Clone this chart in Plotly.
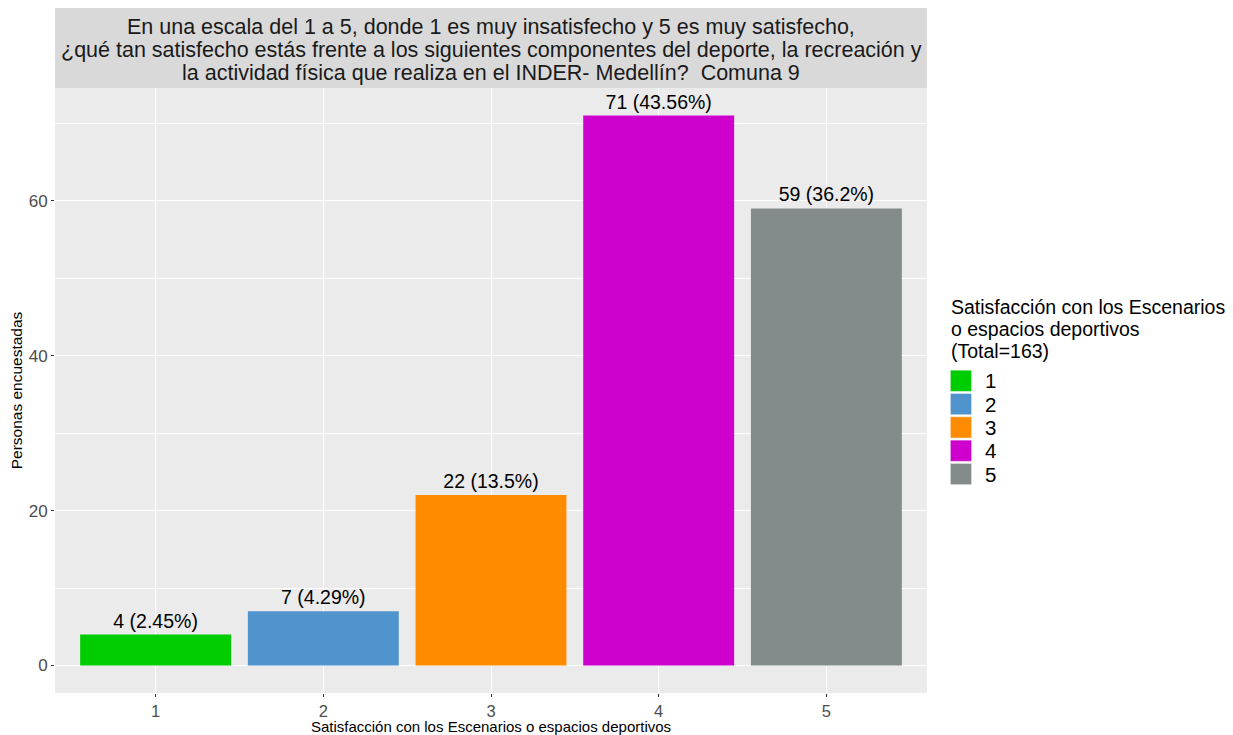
import plotly.graph_objects as go

categories = ["1", "2", "3", "4", "5"]
counts = [4, 7, 22, 71, 59]
percents = ["2.45%", "4.29%", "13.5%", "43.56%", "36.2%"]
colors = ["#00CD00", "#4F94CD", "#FF8C00", "#CD00CD", "#838B8B"]
total = 163

title_lines = [
    "En una escala del 1 a 5, donde 1 es muy insatisfecho y 5 es muy satisfecho,",
    "¿qué tan satisfecho estás frente a los siguientes componentes del deporte, la recreación y",
    "la actividad física que realiza en el INDER- Medellín?  Comuna 9",
]
legend_title_lines = [
    "Satisfacción con los Escenarios",
    "o espacios deportivos",
    f"(Total={total})",
]

FONT = "Liberation Sans, Arial, sans-serif"

fig = go.Figure()
for cat, n, p, c in zip(categories, counts, percents, colors):
    fig.add_trace(go.Bar(
        x=[cat], y=[n], width=0.9, marker=dict(color=c, line=dict(width=0)),
        text=[f"{n} ({p})"], textposition="outside", cliponaxis=False,
        textfont=dict(family=FONT, size=19.5, color="#000000"),
        name=cat, showlegend=False))

# page has an 8px body margin; figure is placed at (8, 8)
W, H = 1225, 727
ml, mr, mt, mb = 47, 306.3, 80, 42.3
ph = H - mt - mb
pw = W - ml - mr


def py(ypix):  # figure pixel y -> paper y
    return (H - mb - ypix) / ph


def px(xpix):  # figure pixel x -> paper x
    return (xpix - ml) / pw


annotations = []
shapes = [dict(type="rect", xref="paper", yref="paper", x0=0, x1=1, y0=1, y1=py(0),
               fillcolor="#D9D9D9", line=dict(width=0), layer="below")]

for i, line in enumerate(title_lines):
    annotations.append(dict(text=line, xref="paper", yref="paper", x=0.5, y=py(19 + 23 * i),
                            xanchor="center", yanchor="middle", showarrow=False,
                            font=dict(size=21.5, color="#1A1A1A")))

# legend (drawn to match ggplot's key sizes)
for i, line in enumerate(legend_title_lines):
    annotations.append(dict(text=line, xref="paper", yref="paper", x=px(941), y=py(299 + 22 * i),
                            xanchor="left", yanchor="middle", showarrow=False,
                            font=dict(size=19.5, color="#000000")))
key_top, key_step, key_size, key_left = 362, 23.3, 21.3, 942
for i, (cat, c) in enumerate(zip(categories, colors)):
    y0 = key_top + key_step * i
    shapes.append(dict(type="rect", xref="paper", yref="paper",
                       x0=px(key_left), x1=px(key_left + key_size),
                       y0=py(y0 + key_size), y1=py(y0),
                       fillcolor=c, line=dict(width=0.6, color="#F2F2F2")))
    annotations.append(dict(text=cat, xref="paper", yref="paper", x=px(974.5), y=py(y0 + key_size / 2),
                            xanchor="left", yanchor="middle", showarrow=False,
                            font=dict(size=20.5, color="#000000")))

fig.update_layout(
    width=W, height=H,
    margin=dict(l=ml, r=mr, t=mt, b=mb, autoexpand=False),
    paper_bgcolor="white", plot_bgcolor="#EBEBEB",
    font=dict(family=FONT, color="#000000"),
    bargap=0.1,
    showlegend=False,
    xaxis=dict(type="category", range=[-0.6, 4.6], categoryorder="array", categoryarray=categories,
               showgrid=True, gridcolor="white", gridwidth=1.1, zeroline=False,
               ticks="outside", ticklen=3, tickcolor="#333333",
               tickfont=dict(size=16.5, color="#4D4D4D"),
               title=dict(text="Satisfacción con los Escenarios o espacios deportivos",
                          font=dict(size=15, color="#000000"), standoff=3)),
    yaxis=dict(range=[-3.55, 74.55], tickvals=[0, 20, 40, 60],
               showgrid=True, gridcolor="white", gridwidth=1.1, zeroline=False,
               minor=dict(tickvals=[10, 30, 50, 70], showgrid=True, gridcolor="white", gridwidth=0.5, ticks=""),
               ticks="outside", ticklen=3, tickcolor="#333333",
               tickfont=dict(size=17, color="#4D4D4D"),
               title=dict(text="Personas encuestadas", font=dict(size=15.5, color="#000000"), standoff=4)),
    shapes=shapes,
    annotations=annotations,
)

fig.write_html("out.html")
